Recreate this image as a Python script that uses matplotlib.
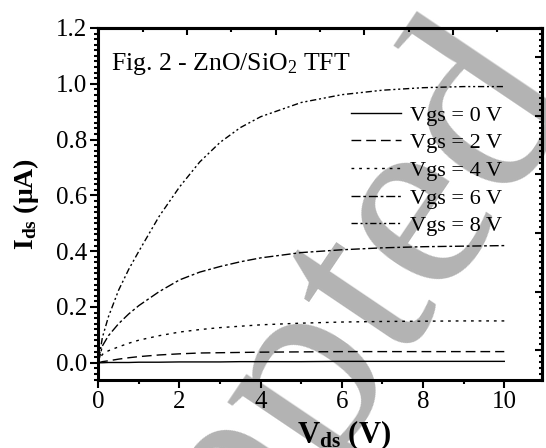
import matplotlib
matplotlib.use('Agg')
import matplotlib.pyplot as plt
from matplotlib.ticker import MultipleLocator

plt.rcParams['font.family'] = ['Liberation Serif', 'DejaVu Serif']
plt.rcParams['mathtext.fontset'] = 'custom'
plt.rcParams['mathtext.rm'] = 'Liberation Serif'
plt.rcParams['mathtext.it'] = 'Liberation Serif:italic'
plt.rcParams['mathtext.bf'] = 'Liberation Serif:bold'

# drain voltage (V) and drain current (uA)
vds = [0, 0.1, 0.25, 0.5, 0.75, 1, 1.5, 2, 2.5, 3, 3.5, 4, 5, 6, 7, 8, 9, 10]
ids_vgs0 = [0, 0.0, 0.001, 0.001, 0.001, 0.002, 0.002, 0.003, 0.003, 0.003, 0.004,
            0.004, 0.004, 0.005, 0.005, 0.005, 0.005, 0.005]
ids_vgs2 = [0, 0.004, 0.007, 0.013, 0.018, 0.022, 0.028, 0.032, 0.035, 0.036, 0.037,
            0.038, 0.039, 0.04, 0.04, 0.04, 0.04, 0.04]
ids_vgs4 = [0, 0.03, 0.043, 0.057, 0.07, 0.081, 0.097, 0.11, 0.119, 0.126, 0.131,
            0.136, 0.142, 0.146, 0.148, 0.149, 0.15, 0.15]
ids_vgs6 = [0, 0.06, 0.097, 0.14, 0.175, 0.205, 0.255, 0.297, 0.325, 0.345, 0.362,
            0.376, 0.395, 0.405, 0.412, 0.416, 0.418, 0.42]
ids_vgs8 = [0, 0.09, 0.165, 0.26, 0.335, 0.40, 0.525, 0.63, 0.72, 0.79, 0.843,
            0.882, 0.933, 0.961, 0.977, 0.986, 0.99, 0.99]

curves = [ids_vgs0, ids_vgs2, ids_vgs4, ids_vgs6, ids_vgs8]
labels = ['Vgs = 0 V', 'Vgs = 2 V', 'Vgs = 4 V', 'Vgs = 6 V', 'Vgs = 8 V']
styles = ['-', (0, (7, 3.6)), (0, (2, 3.5)), (0, (6.5, 2, 2, 2)),
          (0, (4.5, 2, 1.5, 2, 1.5, 2))]

XMAX = 10.92
YMIN = -0.06
YMAX = 1.2

fig = plt.figure(figsize=(5.46, 4.48), dpi=100)
ax = fig.add_axes([0.180, 0.1529, 0.812, 0.7846])
ax.patch.set_visible(False)

# watermark behind everything
fig.text(0.040, -1.056, 'Accepted', rotation=56, rotation_mode='anchor',
         ha='left', va='baseline', fontsize=190, color='#b3b3b3', zorder=-1)

for ids, lab, ls in zip(curves, labels, styles):
    ax.plot(vds, ids, color='black', lw=1.0, ls=ls, label=lab)

ax.set_xlim(0, XMAX)
ax.set_ylim(YMIN, YMAX)
ax.xaxis.set_major_locator(MultipleLocator(2))
ax.xaxis.set_minor_locator(MultipleLocator(1))
ax.yaxis.set_major_locator(MultipleLocator(0.2))
ax.yaxis.set_minor_locator(MultipleLocator(0.02))
ax.tick_params(which='both', direction='out', top=False, right=False,
               width=1.5, labelsize=18, pad=2)
ax.tick_params(which='major', length=6)
ax.tick_params(which='minor', length=3)
for sp in ax.spines.values():
    sp.set_linewidth(2.2)

# Origin style mirrored axes with their own scale
top = ax.secondary_xaxis('top', functions=(lambda x: x * 10 / XMAX,
                                           lambda t: t * XMAX / 10))
top.xaxis.set_major_locator(MultipleLocator(2))
top.xaxis.set_minor_locator(MultipleLocator(1))
top.tick_params(which='both', direction='in', labeltop=False, width=1.5)
top.tick_params(which='major', length=5)
top.tick_params(which='minor', length=3)
top.spines['top'].set_linewidth(2.2)

right = ax.secondary_yaxis('right', functions=(
    lambda y: -0.1 + (y - YMIN) * 1.2 / (YMAX - YMIN),
    lambda r: YMIN + (r + 0.1) * (YMAX - YMIN) / 1.2))
right.yaxis.set_major_locator(MultipleLocator(0.2))
right.yaxis.set_minor_locator(MultipleLocator(0.02))
right.tick_params(which='both', direction='in', labelright=False, width=1.5)
right.tick_params(which='major', length=5)
right.tick_params(which='minor', length=2.5)
right.spines['right'].set_linewidth(2.2)

ax.set_xlabel(r'$\mathbf{V_{ds}}$ (V)', fontsize=22, fontweight='bold')
ax.xaxis.set_label_coords(0.554, -0.110)
ax.set_ylabel(r'$\mathbf{I_{ds}}$ ($\mathbf{\mu}$A)', fontsize=20, fontweight='bold',
              labelpad=10.5)

ax.text(0.31, 1.049, r'Fig. 2 - ZnO/SiO$_2$ TFT', fontsize=18.5, va='baseline')

ax.legend(loc='upper left', bbox_to_anchor=(0.571, 0.781), frameon=False,
          fontsize=16, handlelength=2.25, handletextpad=0.4, labelspacing=0.32,
          borderpad=0, borderaxespad=0)

fig.savefig('out.png', dpi=100)
